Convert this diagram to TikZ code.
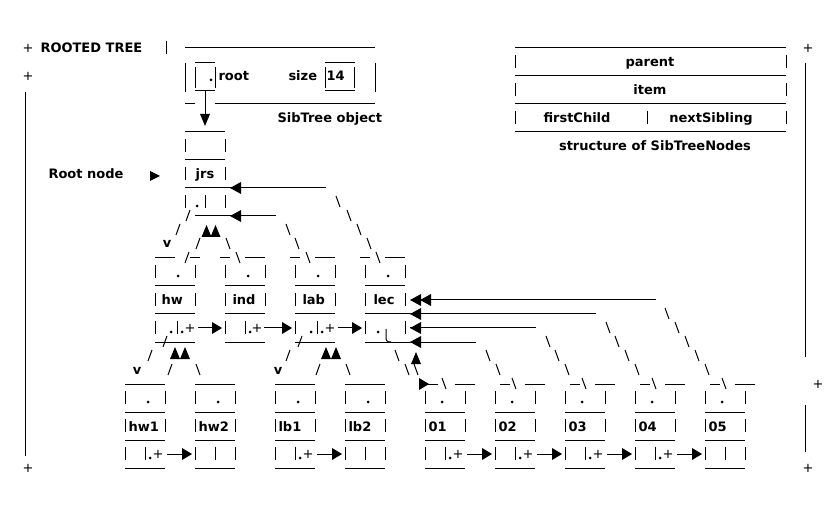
\documentclass[tikz,border=0pt]{standalone}
\usepackage{fontspec}
\setmainfont{DejaVu Sans}
\newcommand\lf{\fontsize{13}{15}\selectfont\bfseries}
\tikzset{
  lbl/.style={font=\lf, inner sep=0pt, anchor=base west},
  lblc/.style={font=\lf, inner sep=0pt, anchor=base},
  pls/.style={font=\fontsize{13}{15}\selectfont, inner sep=0pt, anchor=center},
}
\newcommand\myH[3]{\draw (#1,#3) -- (#2,#3);}
\newcommand\myV[2]{\draw (#1,{#2-7}) -- (#1,{#2+6});}
\newcommand\myBS[2]{\draw ({#1-2},{#2-6}) -- ({#1+2},{#2+5});}
\newcommand\myFS[2]{\draw ({#1+2},{#2-6}) -- ({#1-2},{#2+5});}
\newcommand\myDot[2]{\fill (#1,#2) circle (1.5);}
\newcommand\myTL[2]{\fill (#1,#2) -- ({#1+11},{#2-6}) -- ({#1+11},{#2+6}) -- cycle;}
\newcommand\myTR[2]{\fill (#1,#2) -- ({#1-10},{#2-6}) -- ({#1-10},{#2+6}) -- cycle;}
\newcommand\myTU[2]{\fill (#1,#2) -- ({#1+5},{#2+12}) -- ({#1-5},{#2+12}) -- cycle;}
\newcommand\myTD[2]{\fill (#1,#2) -- ({#1+5},{#2-12}) -- ({#1-5},{#2-12}) -- cycle;}
\newcommand\myVee[2]{\node[lblc] at (#1,{#2+4}) {v};}
% level-1 box: L, text offset, text
\newcommand\boxA[3]{%
  \myV{#1}{272}\myV{#1+40}{272}\myDot{#1+23}{276}
  \myH{#1}{#1+40}{286}
  \myV{#1}{300}\myV{#1+40}{300}
  \node[lbl] at (#1+#2,305) {#3};
  \myH{#1}{#1+40}{314}
}
% level-2 box: L, text, dot offset
\newcommand\boxB[3]{%
  \myV{#1}{398}\myV{#1+40}{398}\myDot{#1+#3}{402}
  \myH{#1}{#1+40}{412}
  \myV{#1}{426}\myV{#1+40}{426}
  \node[lbl] at (#1+3,431) {#2};
  \myH{#1}{#1+40}{440}
  \myV{#1}{454}\myV{#1+20}{454}
  \myH{#1}{#1+40}{468}
}
\newcommand\sibB[1]{%
  \myDot{#1+25}{458}\node[pls] at (#1+33,454) {+};
  \draw (#1+42,454) -- (#1+58,454); \myTR{#1+67}{454}
}
\begin{document}
\begin{tikzpicture}[x=1pt,y=-1pt,line width=1pt]
\useasboundingbox (0,0) rectangle (840,518);
% frame
\node[pls] (p1) at (28,48) {+};
\node[lbl] (title) at (40,53) {ROOTED TREE};
\myV{166}{48}
\node[pls] (p2) at (28,76) {+};
\draw (25,92) -- (25,456);
\node[pls] (p3) at (28,468) {+};
\node[pls] (p4) at (808,48) {+};
\draw (805,63) -- (805,357);
\node[pls] (p5) at (818,384) {+};
\draw (805,405) -- (805,452);
\node[pls] (p6) at (808,468) {+};
% SibTree object
\myH{185}{375}{48}
\draw (185,63) -- (185,92); \draw (375,63) -- (375,92);
\myH{195}{215}{63}\myH{195}{215}{91}
\draw (195,67) -- (195,88); \draw (215,67) -- (215,88);
\myDot{211}{80}
\node[lbl] (root) at (218,81) {root};
\node[lbl] (size) at (288,81) {size};
\node[lbl] (fourteen) at (326,81) {14};
\myH{325}{355}{63}\myH{325}{355}{91}
\draw (325,67) -- (325,88); \draw (354,67) -- (354,88);
\myH{185}{195}{104}\myH{215}{375}{104}
\draw (205,91) -- (205,115); \myTD{205}{126}
\node[lbl] (sto) at (277,123) {SibTree object};
\myH{185}{225}{132}
% structure box
\myH{515}{786}{48}
\myV{515}{62}\myV{786}{62}
\node[lblc] (parent) at (650,67) {parent};
\myH{515}{786}{76}
\myV{515}{90}\myV{786}{90}
\node[lblc] (item) at (650,95) {item};
\myH{515}{786}{104}
\myV{515}{118}\myV{647}{118}\myV{786}{118}
\node[lblc] (fc) at (577,123) {firstChild};
\node[lblc] (ns) at (711,123) {nextSibling};
\myH{515}{786}{132}
\node[lblc] (stn) at (655,151) {structure of SibTreeNodes};
% root node
\myV{185}{146}\myV{225}{146}
\myH{185}{225}{160}
\myV{185}{174}\myV{225}{174}
\node[lblc] (jrs) at (205,179) {jrs};
\node[lbl] (rn) at (48,179) {Root node};
\fill (160,176) -- (150,171) -- (150,181) -- cycle;
\myH{185}{326}{188}\myTL{230}{188}
\myV{185}{202}\myV{205}{202}\myV{225}{202}\myDot{197}{206}
\myH{195}{276}{216}\myTL{230}{216}
% root -> level 1 connectors
\myBS{338}{202}\myBS{349}{216}\myBS{359}{230}\myBS{369}{244}\myBS{378}{258}
\myBS{288}{230}\myBS{297}{244}\myBS{308}{258}
\myBS{228}{244}\myBS{238}{258}
\myFS{188}{216}\myFS{178}{230}\myVee{167}{244}
\myFS{198}{244}\myFS{187}{258}
\myTU{206.5}{225}\myTU{215.5}{225}
% level 1 top line
\myH{155}{175}{258}\myH{190}{200}{258}
\myH{220}{230}{258}\myH{245}{265}{258}
\myH{290}{300}{258}\myH{315}{335}{258}
\myH{360}{370}{258}\myH{385}{405}{258}
\boxA{155}{6}{hw}\boxA{225}{7}{ind}\boxA{295}{7}{lab}\boxA{365}{8}{lec}
% level 1 pointer row
\myV{155}{328}\myDot{171}{332}\myV{177}{328}\myDot{182}{332}\node[pls] at (190,328) {+};
\draw (198,328) -- (212,328);\myTR{222}{328}
\myV{225}{328}\myV{245}{328}\myDot{250}{332}\node[pls] at (257,328) {+};
\draw (264,328) -- (282,328);\myTR{292}{328}
\myV{295}{328}\myDot{311}{332}\myV{317}{328}\myDot{322}{332}\node[pls] at (330,328) {+};
\draw (338,328) -- (352,328);\myTR{362}{328}
\myV{365}{328}\myDot{378}{332}\myV{405}{328}
\draw (386,329) -- (386,337) .. controls (386,341) and (387,342) .. (391,342);
\myH{155}{195}{342}\myH{225}{265}{342}\myH{295}{335}{342}
% lines into lec from the right
\myH{430}{656}{300}\myTL{410}{300}\myTL{420}{300}
\myH{405}{596}{314}\myTL{410}{314}
\myH{410}{536}{328}\myTL{410}{328}
\myH{365}{476}{342}\myTL{410}{342}
% level 1 -> level 2 connectors
\myFS{165}{342}\myFS{150}{356}\myVee{137}{370}
\myTU{175}{347}\myTU{185}{347}
\myFS{170}{370}\myBS{198}{370}
\myFS{300}{342}\myFS{288}{356}\myVee{278}{370}
\myTU{326}{347}\myTU{336}{347}
\myFS{318}{370}\myBS{348}{370}
\myBS{397}{356}\myBS{407}{370}\myTR{429}{384}
\myTU{416}{352}\myBS{416}{370}
\myBS{488}{356}\myBS{498}{370}
\myBS{548}{342}\myBS{557}{356}\myBS{567}{370}
\myBS{608}{328}\myBS{617}{342}\myBS{627}{356}\myBS{637}{370}
\myBS{667}{314}\myBS{677}{328}\myBS{687}{342}\myBS{697}{356}\myBS{707}{370}
% level 2 top lines
\myH{125}{165}{384}\myH{195}{235}{384}\myH{275}{315}{384}\myH{345}{385}{384}
\myH{428}{438}{384}\myBS{444}{384}\myH{455}{475}{384}
\myH{500}{510}{384}\myBS{514}{384}\myH{525}{545}{384}
\myH{570}{580}{384}\myBS{584}{384}\myH{595}{615}{384}
\myH{640}{650}{384}\myBS{654}{384}\myH{665}{685}{384}
\myH{710}{720}{384}\myBS{724}{384}\myH{735}{755}{384}
% level 2 boxes
\boxB{125}{hw1}{23}\boxB{195}{hw2}{23}\boxB{275}{lb1}{23}\boxB{345}{lb2}{23}
\boxB{425}{01}{17}\boxB{495}{02}{17}\boxB{565}{03}{17}\boxB{635}{04}{17}\boxB{705}{05}{17}
\sibB{125}\sibB{275}\sibB{425}\sibB{495}\sibB{565}\sibB{635}
\myV{235}{454}\myV{385}{454}\myV{745}{454}
\end{tikzpicture}
\end{document}
